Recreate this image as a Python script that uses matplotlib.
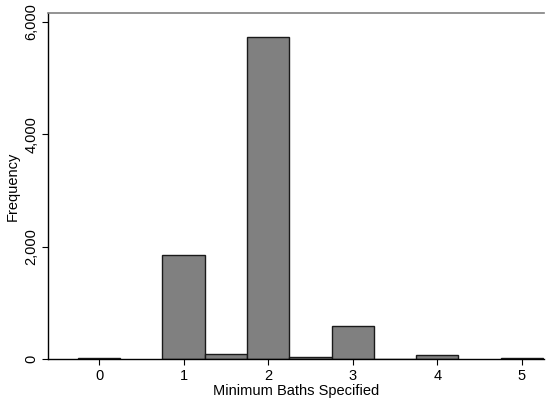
import matplotlib
matplotlib.use("Agg")
import matplotlib.pyplot as plt

# histogram of minimum baths, bin width 0.5 centred on each value
bath_values = [0, 1, 1.5, 2, 2.5, 3, 3.5, 4, 5]
frequencies = [25, 1850, 90, 5740, 38, 590, 6, 72, 18]
x_ticks = [0, 1, 2, 3, 4, 5]
y_ticks = [0, 2000, 4000, 6000]

plt.rcParams["font.family"] = ["Liberation Sans", "DejaVu Sans"]

fig = plt.figure(figsize=(5.47, 3.99), dpi=100)
ax = fig.add_axes([0.0878, 0.1003, 0.9065, 0.8671])

ax.bar(bath_values, frequencies, width=0.5, color="#808080",
       edgecolor="#1a1a1a", linewidth=1.0, zorder=2)

ax.set_xlim(-0.603, 5.26)
ax.set_ylim(0, 6160)
ax.set_xticks(x_ticks)
ax.set_xticklabels([str(v) for v in x_ticks])
ax.set_yticks(y_ticks)
ax.set_yticklabels([f"{v:,}" for v in y_ticks], rotation=90, va="center")
ax.tick_params(axis="both", direction="out", length=4, width=0.8,
               labelsize=10.5, colors="black", pad=3)

ax.set_xlabel("Minimum Baths Specified", fontsize=10.5, labelpad=1)
ax.set_ylabel("Frequency", fontsize=10.5, labelpad=3)

ax.spines["right"].set_visible(False)
ax.spines["top"].set_color("#808080")
ax.spines["top"].set_linewidth(1.2)
ax.spines["left"].set_linewidth(1.0)
ax.spines["bottom"].set_linewidth(1.0)

fig.savefig("out.png", dpi=100)
